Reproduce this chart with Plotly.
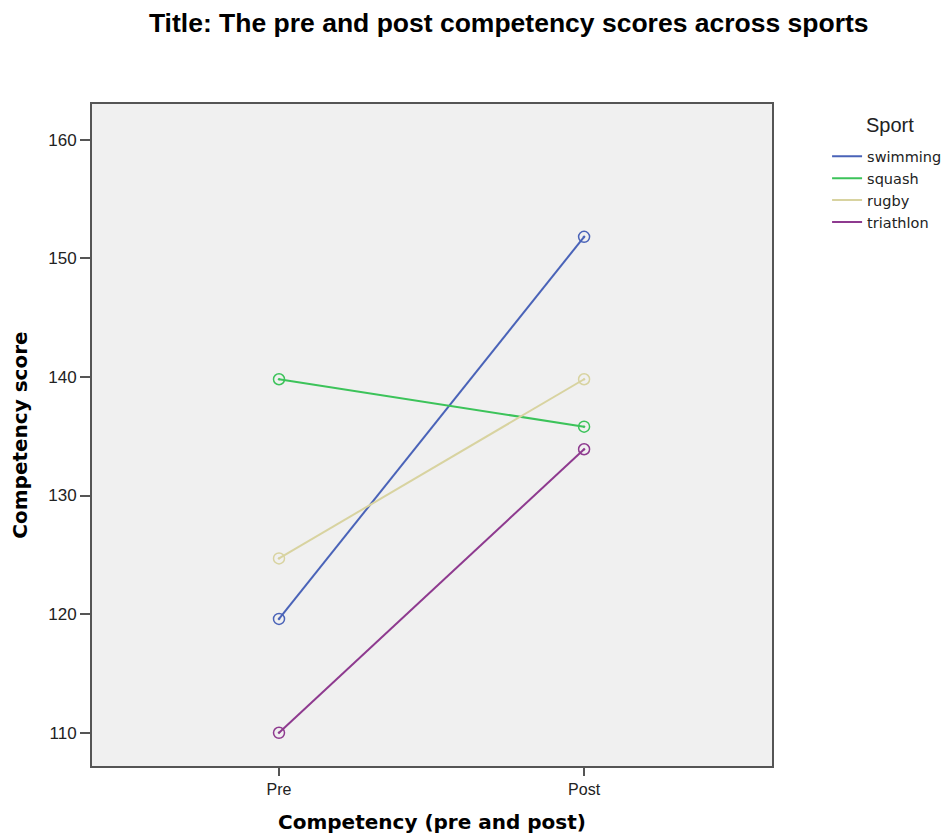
import plotly.graph_objects as go

phases = ["Pre", "Post"]
sports = ["swimming", "squash", "rugby", "triathlon"]
swimming = [119.6, 151.8]
squash = [139.8, 135.8]
rugby = [124.7, 139.8]
triathlon = [110.0, 133.9]
colors = ["#4A63B8", "#3CC35A", "#D8D3A0", "#8E3A8F"]
y_ticks = [110, 120, 130, 140, 150, 160]

series = [swimming, squash, rugby, triathlon]

fig = go.Figure()
for name, vals, c in zip(sports, series, colors):
    fig.add_trace(go.Scatter(
        x=[0, 1], y=vals, name=name, mode="lines+markers", showlegend=False,
        line=dict(color=c, width=2),
        marker=dict(symbol="circle-open-dot", size=11, color=c, line=dict(width=1.5, color=c)),
    ))
# legend entries (line only, as in the reference)
for name, c in zip(sports, colors):
    fig.add_trace(go.Scatter(
        x=[None], y=[None], name=name, mode="lines",
        line=dict(color=c, width=2), showlegend=True,
    ))

fig.update_layout(
    width=943, height=831,
    margin=dict(l=84, r=179, t=96, b=73, autoexpand=False),
    paper_bgcolor="white", plot_bgcolor="#F0F0F0",
    font=dict(family="Liberation Sans, Arial, sans-serif", color="#222"),
    title=dict(text="<b>Title: The pre and post competency scores across sports</b>",
               xref="container", yref="container",
               x=0.531, xanchor="center", y=1.0, yanchor="top",
               pad=dict(t=5),
               font=dict(size=26.5, color="black")),
    showlegend=True,
    legend=dict(
        x=1.081, xanchor="left", y=0.945, yanchor="top",
        font=dict(family="DejaVu Sans, sans-serif", size=14.5, color="#222"),
        bgcolor="rgba(0,0,0,0)",
        tracegroupgap=0, itemwidth=30,
    ),
    annotations=[dict(
        text="Sport", xref="paper", yref="paper",
        x=(890 - 92) / 680, y=1 - (125 - 104) / 662,
        xanchor="center", yanchor="middle", showarrow=False,
        font=dict(size=20, color="#222"),
    )],
)
fig.update_xaxes(
    range=[-0.613, 1.616], tickvals=[0, 1], ticktext=phases,
    ticks="outside", ticklen=8, tickwidth=2, tickcolor="#555",
    showline=True, linecolor="#555", linewidth=2, mirror=True,
    showgrid=False, zeroline=False,
    tickfont=dict(size=16, color="#222"),
    title=dict(text="<b>Competency (pre and post)</b>",
               font=dict(family="DejaVu Sans, sans-serif", size=20, color="black"), standoff=18),
)
fig.update_yaxes(
    range=[107.2, 163.0], tickvals=y_ticks,
    ticks="outside", ticklen=10, tickwidth=2, tickcolor="#555",
    showline=True, linecolor="#555", linewidth=2, mirror=True,
    showgrid=False, zeroline=False,
    tickfont=dict(size=17, color="#222"),
    title=dict(text="<b>Competency score</b>",
               font=dict(family="DejaVu Sans, sans-serif", size=20, color="black"), standoff=15),
)
fig.write_html("out.html")
